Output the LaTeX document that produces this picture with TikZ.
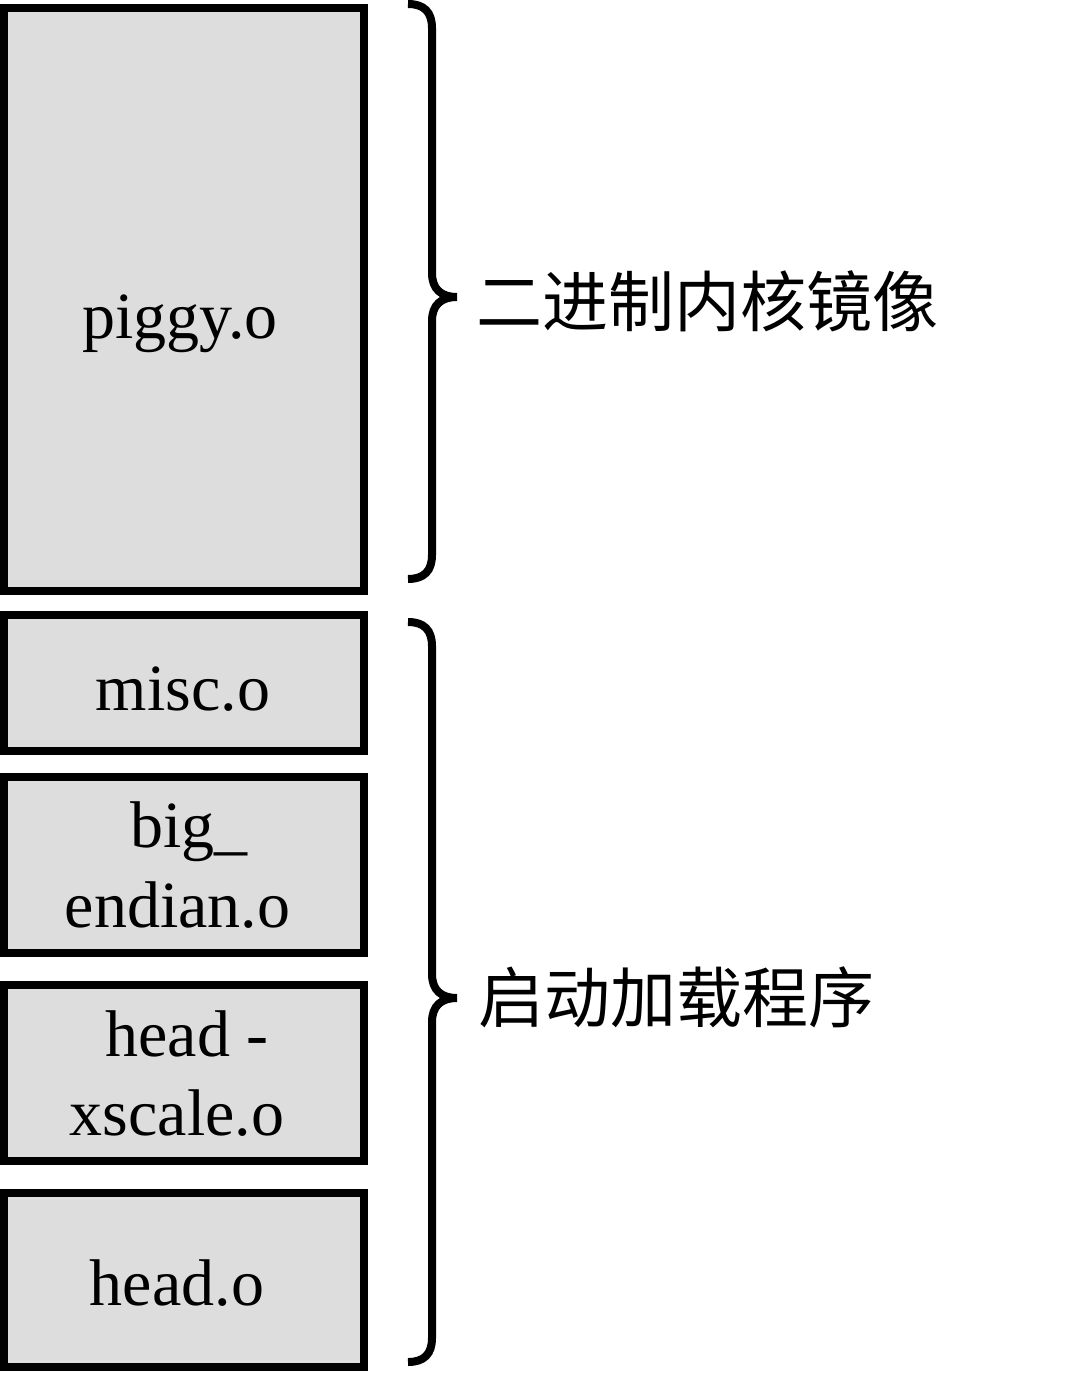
\documentclass[tikz,border=0pt]{standalone}
\usepackage{fontspec}
\setmainfont{Liberation Serif}
\newfontfamily\cjk{Noto Sans CJK SC}
\definecolor{boxgray}{RGB}{221,221,221}
\begin{document}
\begin{tikzpicture}[x=0.5pt,y=-0.5pt,
  objbox/.style={draw=black, line width=4pt, fill=boxgray, minimum width=180pt, inner sep=0pt},
  lbl/.style={anchor=base, inner sep=0pt, font=\fontsize{33pt}{38pt}\selectfont},
  cjklabel/.style={anchor=base west, inner sep=0pt, font=\cjk\fontsize{33pt}{38pt}\selectfont},
  bracepath/.style={draw=black, line width=4pt}]
\useasboundingbox (0,0) rectangle (1079,1374);

% boxes
\node[objbox, minimum height=291.5pt] (piggy) at (184,299.5) {};
\node[objbox, minimum height=68pt] (misc) at (184,683) {};
\node[objbox, minimum height=88pt] (bigend) at (184,865) {};
\node[objbox, minimum height=88pt] (hxscale) at (184,1073) {};
\node[objbox, minimum height=87pt] (head) at (184,1280) {};

% box texts
\node[lbl] (tpiggy) at (180,338) {piggy.o};
\node[lbl] (tmisc) at (183,710) {misc.o};
\node[lbl] (tbig1) at (189,847) {big\_};
\node[lbl] (tbig2) at (177.5,927) {endian.o};
\node[lbl] (thx1) at (187,1056) {head -};
\node[lbl] (thx2) at (177,1135) {xscale.o};
\node[lbl] (thead) at (177,1305) {head.o};

% braces
\draw[bracepath] (408,4) .. controls (424,4) and (432,12) .. (432,28)
  -- (432,273) .. controls (432,289) and (441,297) .. (457,297)
  .. controls (441,297) and (432,305) .. (432,321)
  -- (432,555) .. controls (432,571) and (424,579) .. (408,579);
\draw[bracepath] (408,622) .. controls (424,622) and (432,630) .. (432,646)
  -- (432,974) .. controls (432,990) and (441,998) .. (457,998)
  .. controls (441,998) and (432,1006) .. (432,1022)
  -- (432,1338) .. controls (432,1354) and (424,1362) .. (408,1362);

% brace labels
\node[cjklabel] (kernel) at (476,327) {二进制内核镜像};
\node[cjklabel] (loader) at (478,1022) {启动加载程序};
\end{tikzpicture}
\end{document}
